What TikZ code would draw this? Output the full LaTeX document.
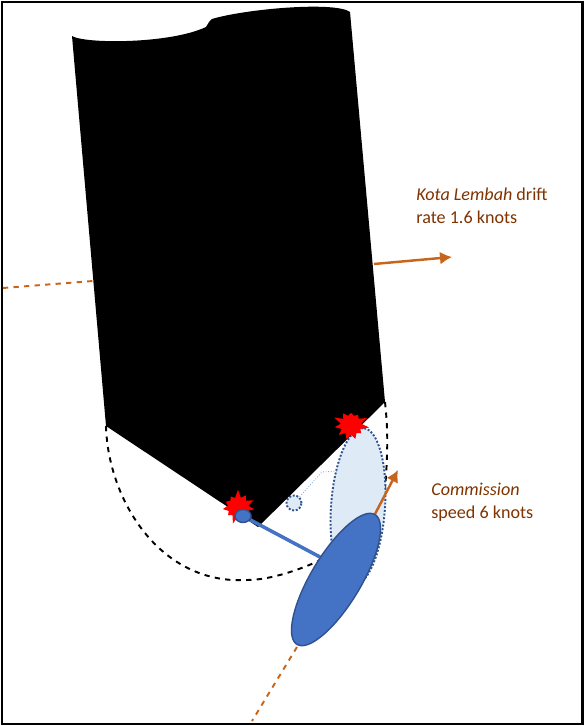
\documentclass[tikz,border=0pt]{standalone}
\usepackage{fontspec}
\setmainfont{Carlito}
\usetikzlibrary{positioning,arrows.meta,shapes.geometric,shapes.symbols}
\definecolor{driftorange}{HTML}{C9651B}
\definecolor{labelbrown}{HTML}{7F3300}
\definecolor{shipblue}{HTML}{4472C4}
\definecolor{shipedge}{HTML}{2F528F}
\definecolor{ghostblue}{HTML}{DEEAF6}

\begin{document}
\begin{tikzpicture}[
  x=0.02cm,y=-0.02cm,
  font=\fontsize{10.3}{13}\selectfont,
  note/.style={text=labelbrown,align=left,anchor=north west,inner sep=0pt},
  track/.style={-{Latex[length=2.4mm,width=2.6mm]},driftorange,line width=1.4pt},
  wake/.style={driftorange,dashed,line width=1.1pt},
  swing/.style={black,dashed,line width=1.1pt},
  ship/.style={ellipse,draw=shipedge,fill=shipblue,line width=0.8pt,inner sep=0pt},
  ghost/.style={ellipse,draw=shipedge,densely dotted,fill=ghostblue,line width=1.1pt,inner sep=0pt},
  impact/.style={starburst,fill=red,inner sep=0pt,minimum width=0.75cm,minimum height=0.72cm,starburst points=11,starburst point height=0.17cm},
]

  \useasboundingbox (0,0) rectangle (584,726);
  \node[draw=black,line width=1.2pt,minimum width=11.62cm,minimum height=14.46cm,inner sep=0pt] (frame) at (292,363) {};

  % Ground corners and track ends.
  \coordinate (aft) at (106,426);
  \coordinate (bow) at (385,402);
  \coordinate (apex) at (258,527);
  \coordinate (driftin) at (3,288);
  \coordinate (driftout) at (93,281);
  \coordinate (driftfrom) at (374,264);
  \coordinate (driftto) at (452,257);
  \coordinate (speedto) at (398,470);
  \coordinate (wakeout) at (252,721);

  % Swing arc round the berth.
  \draw[swing] (aft) .. controls (108,500) and (160,585) .. (247,580)
    .. controls (270,580) and (300,570) .. (325,558);
  \draw[swing] (bow) .. controls (388,430) and (388,450) .. (385,490);

  % Earlier position of the ship.
  \node[ghost,minimum width=3.16cm,minimum height=1.08cm,rotate=86] (ghostship) at (358,507) {};
  \node[ghost,circle,minimum size=0.3cm] (ghostdot) at (294,503) {};
  \coordinate (ghostbend) at (322,472);
  \draw[shipblue!60,densely dotted,line width=0.5pt] (ghostdot) -- (ghostbend) -- (338,471);

  % Black mass with its two rounded tops.
  \fill[black] (72,36) .. controls (85,44) and (170,44) .. (206,27)
    .. controls (208,25) and (208,22) .. (212,19)
    .. controls (245,9) and (335,1) .. (350,12)
    -- (bow) -- (apex) -- (aft) -- cycle;

  \node[impact,random starburst=7] (hitlow) at (238,507) {};
  \node[impact,random starburst=3] (hithigh) at (351,425) {};

  % Drift and speed tracks.
  \draw[wake] (driftin) -- (driftout);
  \draw[track] (driftfrom) -- (driftto);
  \draw[track] (375,514) -- (speedto);
  \draw[wake] (297,647) -- (wakeout);

  % Ship on its line.
  \node[ship,minimum width=0.32cm,minimum height=0.26cm] (pivot) at (243,516) {};
  \draw[shipblue,line width=2pt] (pivot) -- (320,557);
  \node[ship,minimum width=3.03cm,minimum height=1.0cm,rotate=59] (commission) at (336,579.5) {};

  \node[note] (driftnote) at (416,188) {\textit{Kota Lembah} drift\\rate 1.6 knots};
  \node[note] (speednote) at (431,483) {\textit{Commission}\\speed 6 knots};

\end{tikzpicture}
\end{document}
